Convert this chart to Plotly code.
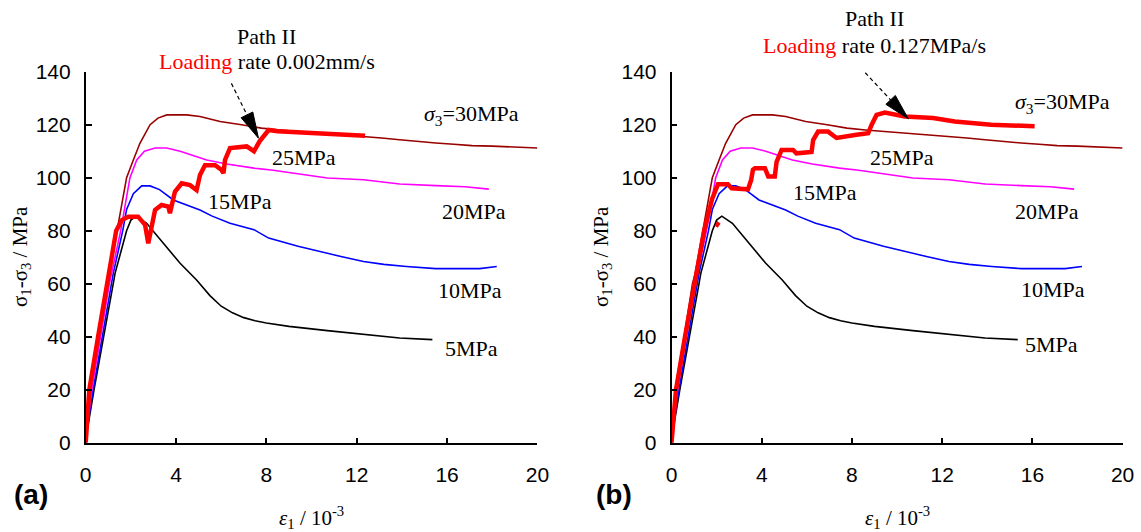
import plotly.graph_objects as go
import math

# ---------------- data ----------------
# strain eps1 (1e-3) and deviatoric stress (MPa)
x_5 = [0, 0.07, 0.37, 0.81, 1.22, 1.30, 1.81, 2.0, 2.23, 2.70, 3.44, 4.18, 4.91, 5.5, 6.0, 6.5, 7.0, 7.5, 8.0, 9.0, 10.7, 12.3, 13.9, 15.35]
y_5 = [0, 4.8, 20, 40, 60, 63.9, 80, 84, 85.5, 82.8, 75.2, 67.7, 61.4, 55.5, 51.5, 49, 47.2, 46, 45.2, 43.9, 42.3, 40.8, 39.5, 38.9]

x_10 = [0, 0.06, 0.33, 0.75, 1.15, 1.22, 1.64, 1.81, 2.11, 2.48, 2.85, 3.27, 3.88, 4.55, 5.06, 5.6, 6.39, 7.45, 8.1, 9.4, 10.3, 11.3, 12.3, 13.2, 14.2, 15.5, 16.5, 17.45, 18.2]
y_10 = [0, 5, 20, 40, 60, 63.9, 80, 88, 94, 96.9, 96.9, 95.5, 91.6, 89.5, 87.8, 85.5, 82.8, 80.4, 77.2, 74.1, 72.2, 70.3, 68.4, 67.3, 66.5, 65.7, 65.7, 65.7, 66.5]

x_20 = [0, 0.05, 0.27, 0.66, 1.05, 1.55, 1.96, 2.26, 2.6, 3.07, 3.59, 4.18, 4.8, 5.36, 6.24, 7.45, 8.3, 9.07, 10.7, 12.3, 13.9, 15.5, 16.8, 17.85]
y_20 = [0, 5, 20, 40, 60, 80, 100, 106.7, 110, 111.2, 111.2, 110, 108.2, 106.7, 105.2, 103.6, 102.8, 101.8, 99.9, 99.2, 97.6, 97.0, 96.6, 95.7]

x_30 = [0, 0.04, 0.16, 0.56, 0.93, 1.05, 1.40, 1.81, 2.11, 2.40, 2.85, 3.2, 3.59, 4.47, 5.06, 5.95, 6.9, 7.78, 8.6, 9.4, 10.2, 11.0, 12.3, 13.1, 13.9, 14.7, 15.5, 16.3, 17.1, 18.0, 19.0, 20.0]
y_30 = [0, 6, 20, 40, 60, 63.9, 80, 100, 106.7, 113, 120, 122.5, 123.7, 123.7, 123.1, 121.2, 120.0, 118.7, 118.0, 117.5, 117.1, 116.6, 115.6, 115.0, 114.3, 113.6, 113.1, 112.6, 112.1, 111.9, 111.5, 111.2]

# path II, loading rate 0.002 mm/s (panel a)
x_red_a = [0, 0.08, 0.16, 0.55, 0.93, 1.35, 1.6, 1.89, 2.32, 2.63, 2.77, 2.92, 3.07, 3.36, 3.66, 3.73, 3.95, 4.25, 4.62, 4.91, 5.06, 5.28, 5.73, 6.02, 6.10, 6.17, 6.39, 7.13, 7.45, 7.7, 8.1, 8.5, 9.87, 11.5, 12.37]
y_red_a = [0, 10, 20, 40, 60, 80, 84, 85.3, 85.3, 82.2, 75.2, 82.2, 87.8, 89.7, 89.1, 86.6, 94.7, 97.9, 97.2, 95.3, 101, 104.7, 104.7, 102.9, 101.7, 106.7, 111.2, 111.8, 110, 113.7, 118, 117.5, 116.8, 116.2, 115.8]

# path II, loading rate 0.127 MPa/s (panel b)
x_red_b = [0, 0.08, 0.2, 0.6, 1.0, 1.45, 1.8, 2.06, 2.5, 2.67, 3.39, 3.53, 3.61, 3.70, 4.14, 4.29, 4.58, 4.66, 4.88, 5.39, 5.54, 6.21, 6.28, 6.5, 6.94, 7.17, 7.32, 8.2, 8.72, 8.87, 9.09, 9.46, 10.34, 11.6, 12.56, 14.17, 16.1]
y_red_b = [0, 10, 20, 40, 60, 80, 92, 97.5, 97.5, 96.0, 95.6, 99.1, 103, 103.6, 103.6, 100.5, 100.5, 106, 110.5, 110.5, 109.2, 109.7, 114.2, 117.4, 117.4, 115.6, 115.0, 116.2, 116.8, 119.9, 123.7, 124.6, 123.1, 122.5, 121.2, 120.0, 119.4]
x_blob_b = [1.98, 2.05, 2.12]
y_blob_b = [81.5, 82.5, 82.0]

x_ticks = [0, 4, 8, 12, 16, 20]
y_ticks = [0, 20, 40, 60, 80, 100, 120, 140]

# curve labels: (text, x, y) per panel
labels_a = [("<i>σ</i><sub>3</sub>=30MPa", 17.1, 123.7), ("25MPa", 9.66, 107.5), ("15MPa", 6.81, 91.0),
            ("20MPa", 17.2, 87.2), ("10MPa", 17.0, 57.5), ("5MPa", 17.1, 35.5)]
labels_b = [("<i>σ</i><sub>3</sub>=30MPa", 17.35, 128.1), ("25MPa", 10.2, 107.5), ("15MPa", 6.8, 94.3),
            ("20MPa", 16.65, 87.2), ("10MPa", 16.9, 58.0), ("5MPa", 16.85, 37.0)]

# ---------------- layout constants (pixels) ----------------
W, H = 1141, 532
XA = (85.7, 537.4)
XB = (671.5, 1122.6)
YP = (442.7, 71.7)   # pixel y of 0 and 140
SERIF = "Liberation Serif"
SANS = "Liberation Sans"

COL = {"5": "#000000", "10": "#0000FF", "20": "#FF00FF", "30": "#990000", "red": "#FF0000"}

fig = go.Figure()


def add_panel(xa, ya, red_x, red_y, extra=None):
    for key, xs, ys in [("5", x_5, y_5), ("10", x_10, y_10), ("20", x_20, y_20), ("30", x_30, y_30)]:
        fig.add_trace(go.Scatter(x=xs, y=ys, mode="lines", xaxis=xa, yaxis=ya,
                                 line=dict(color=COL[key], width=1.6), showlegend=False,
                                 cliponaxis=False))
    if extra is not None:
        fig.add_trace(go.Scatter(x=extra[0], y=extra[1], mode="lines", xaxis=xa, yaxis=ya,
                                 line=dict(color=COL["red"], width=4), showlegend=False))
    fig.add_trace(go.Scatter(x=red_x, y=red_y, mode="lines", xaxis=xa, yaxis=ya,
                             line=dict(color=COL["red"], width=4.5), showlegend=False))


add_panel("x", "y", x_red_a, y_red_a)
add_panel("x2", "y2", x_red_b, y_red_b, extra=(x_blob_b, y_blob_b))

axis_common = dict(showgrid=False, zeroline=False, showline=True, linecolor="black", linewidth=1.6,
                   ticks="inside", tickcolor="black", tickwidth=1.6, automargin=False,
                   tickfont=dict(family=SANS, size=21, color="black"))

ydom = [1 - YP[0] / H, 1 - YP[1] / H]
fig.update_layout(
    template="none",
    width=W, height=H, margin=dict(l=0, r=0, t=0, b=0, pad=0, autoexpand=False),
    paper_bgcolor="white", plot_bgcolor="white", showlegend=False,
    xaxis=dict(domain=[XA[0] / W, XA[1] / W], range=[0, 20], tickvals=x_ticks, ticklen=5,
               anchor="y", ticklabelstandoff=12, **axis_common),
    yaxis=dict(domain=ydom, range=[0, 140], tickvals=y_ticks, ticklen=6, anchor="x",
               ticklabelstandoff=9, **axis_common),
    xaxis2=dict(domain=[XB[0] / W, XB[1] / W], range=[0, 20], tickvals=x_ticks, ticklen=5,
                anchor="y2", ticklabelstandoff=12, **axis_common),
    yaxis2=dict(domain=ydom, range=[0, 140], tickvals=y_ticks, ticklen=6, anchor="x2",
                ticklabelstandoff=9, **axis_common),
)

ann = []
shapes = []
txt = dict(family=SERIF, size=22, color="black")
CEN = dict(xanchor="center", yanchor="middle", showarrow=False)


def P(px, py):
    return px / W, 1 - py / H


for (labels, xr, yr) in [(labels_a, "x", "y"), (labels_b, "x2", "y2")]:
    for t, lx, ly in labels:
        ann.append(dict(text=t, x=lx, y=ly, xref=xr, yref=yr, font=txt, **CEN))

# titles of path / loading rate (above the plot areas -> paper coordinates)
for t, (px, py) in [("Path II", (266.9, 36.0)),
                    ("<span style='color:#FF0000'>Loading</span> rate 0.002mm/s", (266.9, 62.0)),
                    ("Path II", (874.3, 18.5)),
                    ("<span style='color:#FF0000'>Loading</span> rate 0.127MPa/s", (874.1, 45.0))]:
    x, y = P(px, py)
    ann.append(dict(text=t, x=x, y=y, xref="paper", yref="paper", font=txt, **CEN))

# axis titles and panel letters
for (xa, letter, lx) in [(XA, "a", 31), (XB, "b", 613.5)]:
    cx = (xa[0] + xa[1]) / 2
    x, y = P(cx, 517)
    ann.append(dict(text="<i>ε</i><sub>1</sub> / 10<sup>-3</sup>", x=x, y=y,
                    xref="paper", yref="paper",
                    font=dict(family=SERIF, size=21, color="black"), **CEN))
    x, y = P(lx, 494)
    ann.append(dict(text="(%s)" % letter, x=x, y=y, xref="paper", yref="paper",
                    font=dict(family=SANS, size=28, color="black", weight="bold"), **CEN))
for ytx in [21, 602]:
    x, y = P(ytx, 257)
    ann.append(dict(text="σ<sub>1</sub>-σ<sub>3</sub> / MPa", x=x, y=y,
                    xref="paper", yref="paper", textangle=-90,
                    font=dict(family=SERIF, size=21, color="black"), **CEN))

# dashed arrows with filled triangular heads
xs_px = (XA[1] - XA[0]) / 20.0
ys_px = (YP[0] - YP[1]) / 140.0


def arrow(start, tip, xr, yr, L=26.0, Wd=13.0):
    dx = (tip[0] - start[0]) * xs_px
    dy = (tip[1] - start[1]) * ys_px
    n = math.hypot(dx, dy)
    ux, uy = dx / n, dy / n
    base = (tip[0] - L * ux / xs_px, tip[1] - L * uy / ys_px)
    px, py = -uy, ux
    v1 = (base[0] + px * Wd / 2 / xs_px, base[1] + py * Wd / 2 / ys_px)
    v2 = (base[0] - px * Wd / 2 / xs_px, base[1] - py * Wd / 2 / ys_px)
    shapes.append(dict(type="line", x0=start[0], y0=start[1], x1=base[0], y1=base[1], xref=xr, yref=yr,
                       line=dict(color="black", width=1.2, dash="4px,3px")))
    shapes.append(dict(type="path", xref=xr, yref=yr, fillcolor="black", line=dict(color="black", width=1),
                       path="M %f %f L %f %f L %f %f Z" % (tip[0], tip[1], v1[0], v1[1], v2[0], v2[1])))


arrow((6.45, 135.6), (7.65, 114.9), "x", "y")
arrow((8.59, 139.6), (10.5, 122.2), "x2", "y2")

fig.update_layout(annotations=ann, shapes=shapes)
fig.write_html("out.html")
